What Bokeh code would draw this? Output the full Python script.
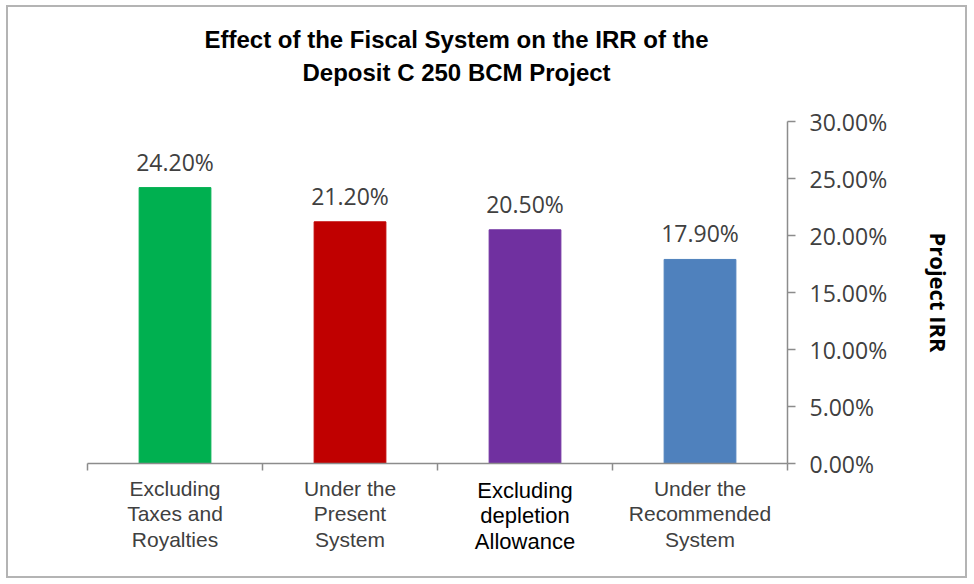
from bokeh.plotting import figure
from bokeh.models import (Range1d, LinearAxis, FixedTicker, NumeralTickFormatter,
                          LabelSet, ColumnDataSource, Title)
from bokeh.core.properties import value
from bokeh.embed import file_html
from bokeh.resources import INLINE

# ---- data ----
categories = ["Excluding\nTaxes and\nRoyalties",
              "Under the\nPresent\nSystem",
              "Excluding\ndepletion\nAllowance",
              "Under the\nRecommended\nSystem"]
irr = [0.242, 0.212, 0.205, 0.179]
colors = ["#00B050", "#C00000", "#7030A0", "#4F81BD"]
y_ticks = [0.0, 0.05, 0.10, 0.15, 0.20, 0.25, 0.30]
title_lines = ["Effect of the Fiscal System on the IRR of the",
               "Deposit C 250 BCM Project"]
y_label = "Project IRR"
special_index = 2   # label drawn in black, slightly larger

# figure geometry (figure sits inside a CSS border)
W, H = 961, 573
FL, FR, FT, FB = 79, 779, 114, 456
xs = [i + 0.5 for i in range(len(categories))]
bounds = list(range(len(categories) + 1))
AX_COL = "#8c8c8c"

p = figure(width=W, height=H, output_backend="svg", toolbar_location=None,
           x_range=Range1d(0, len(categories)), y_range=Range1d(0, 0.30),
           y_axis_location="right", x_axis_location=None,
           min_border_left=FL, min_border_right=W - FR,
           min_border_top=FT, min_border_bottom=H - FB)
p.styles = {"margin-left": "6px", "margin-top": "5px",
            "border": "2px solid #b4b4b4"}
p.outline_line_color = None
p.xgrid.visible = False
p.ygrid.visible = False
p.background_fill_color = "white"
p.border_fill_color = "white"


def style_title(t, offset, standoff):
    t.align = "left"
    t.offset = offset
    t.standoff = standoff
    t.text_font = "Liberation Sans"
    t.text_font_style = "bold"
    t.text_font_size = "24px"
    t.text_color = "black"
    t.text_line_height = 1.0


# invisible gap between the frame and the title block
gap = LinearAxis(ticker=FixedTicker(ticks=[xs[0]], minor_ticks=[]))
gap.major_label_overrides = {xs[0]: ""}
gap.major_label_standoff = 0
gap.major_tick_out = 33
gap.major_tick_in = 0
gap.minor_tick_out = 0
gap.axis_line_color = None
gap.major_tick_line_color = None
gap.minor_tick_line_color = None
p.add_layout(gap, "above")

# title: second line (added) nearest the frame, first line on top
p.title.text = title_lines[0]
style_title(p.title, 117, 2)
t2 = Title(text=title_lines[1])
style_title(t2, 215, 6)
p.add_layout(t2, "above")

src = ColumnDataSource(dict(x=xs, top=irr, color=colors,
                            lab=["%.2f%%" % (v * 100) for v in irr]))
p.vbar(x="x", top="top", width=0.41, bottom=0, color="color", source=src)

# value labels
p.add_layout(LabelSet(x="x", y="top", text="lab", source=src, y_offset=26,
                      text_align="center", text_baseline="middle",
                      text_font=value("Open Sans"), text_font_size=value("23px"),
                      text_color="#404040"))

# right axis
ax = p.yaxis[0]
ax.ticker = FixedTicker(ticks=y_ticks)
ax.formatter = NumeralTickFormatter(format="0.00%")
ax.major_label_text_font = "Open Sans"
ax.major_label_text_font_size = "23px"
ax.major_label_text_color = "#404040"
ax.major_tick_in = 0
ax.major_tick_out = 8
ax.minor_tick_out = 0
ax.minor_tick_in = 0
ax.axis_line_color = AX_COL
ax.major_tick_line_color = AX_COL
ax.axis_line_width = 1.5
ax.major_tick_line_width = 1.5
ax.major_label_standoff = 14
ax.axis_label = y_label
ax.axis_label_text_font = "Open Sans"
ax.axis_label_text_font_style = "bold"
ax.axis_label_text_font_size = "22px"
ax.axis_label_text_color = "black"
ax.axis_label_standoff = 34

# bottom axis: boundary ticks (minor) + regular category labels
normal_ticks = [x for i, x in enumerate(xs) if i != special_index]
bx = LinearAxis(ticker=FixedTicker(ticks=normal_ticks, minor_ticks=bounds))
bx.major_label_overrides = {x: c for i, (x, c) in enumerate(zip(xs, categories))
                            if i != special_index}
bx.major_label_text_font = "Liberation Sans"
bx.major_label_text_font_size = "21px"
bx.major_label_text_color = "#404040"
bx.major_label_text_line_height = 1.13
bx.major_label_standoff = 6
bx.major_tick_in = 0
bx.major_tick_out = 0
bx.major_tick_line_color = None
bx.minor_tick_in = 0
bx.minor_tick_out = 7
bx.minor_tick_line_color = AX_COL
bx.minor_tick_line_width = 1.5
bx.axis_line_color = AX_COL
bx.axis_line_width = 1.5
p.add_layout(bx, "below")

# second bottom axis: the highlighted category label, pulled up onto the same row
sx = LinearAxis(ticker=FixedTicker(ticks=[xs[special_index]], minor_ticks=[]))
sx.major_label_overrides = {xs[special_index]: categories[special_index]}
sx.major_label_text_font = "Liberation Sans"
sx.major_label_text_font_size = "22px"
sx.major_label_text_color = "black"
sx.major_label_text_line_height = 1.03
sx.major_label_standoff = -77
sx.major_tick_in = 0
sx.major_tick_out = 0
sx.major_tick_line_color = None
sx.minor_tick_line_color = None
sx.axis_line_color = None
p.add_layout(sx, "below")

open("out.html", "w").write(file_html(p, INLINE))
